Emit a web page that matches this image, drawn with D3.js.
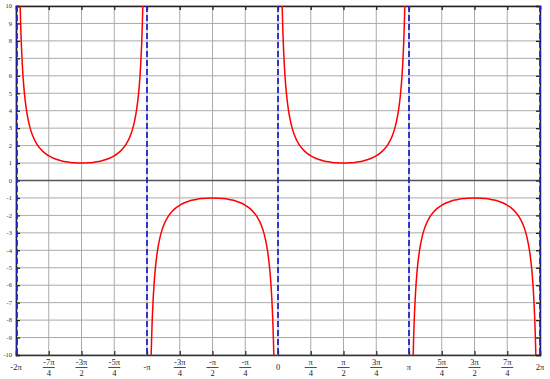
<!DOCTYPE html>
<html><head><meta charset="utf-8">
<script src="https://cdn.jsdelivr.net/npm/d3@7"></script>
<style>body{margin:0;background:#fff}svg{display:block}</style>
</head><body>
<script>
// x ticks in quarter-pi units
const xTickQuarters = [-8,-7,-6,-5,-4,-3,-2,-1,0,1,2,3,4,5,6,7,8];
const xTickNumerators = ["-2π","-7π","-3π","-5π","-π","-3π","-π","-π","0","π","π","3π","π","5π","3π","7π","2π"];
const xTickDenominators = ["","4","2","4","","4","2","4","","4","2","4","","4","2","4",""];
const yTicks = d3.range(-10, 11, 1);
// vertical asymptotes (multiples of pi)
const asymptotes = [-2, -1, 0, 1, 2];
// branch starts (multiples of pi) and sign of each branch of csc(x)
const branchStarts = [-2, -1, 0, 1];
const branchSigns = [1, -1, 1, -1];
// profile of one branch: offset from asymptote (radians) and |csc| value
const profileT = [0.1,0.11,0.12,0.13,0.15,0.17,0.2,0.25,0.3,0.35,0.4,0.5,0.6,0.7,0.8,0.9,1.0,1.1,1.2,1.3,1.4,1.5708,
  1.7416,1.8416,1.9416,2.0416,2.1416,2.2416,2.3416,2.4416,2.5416,2.6416,2.7416,2.7916,2.8416,2.8916,2.9416,2.9716,2.9916,3.0116,3.0216,3.0316,3.0416];
const profileV = [10.017,9.109,8.353,7.714,6.692,5.911,5.033,4.042,3.384,2.916,2.568,2.086,1.771,1.552,1.394,1.277,1.188,1.122,1.073,1.038,1.015,1.000,
  1.015,1.038,1.073,1.122,1.188,1.277,1.394,1.552,1.771,2.086,2.568,2.916,3.384,4.042,5.033,5.911,6.692,7.714,8.353,9.109,10.017];

const W = 550, H = 379;
const m = {l:16, r:10, t:6, b:24};
const PI = Math.PI;
const x = d3.scaleLinear().domain([-2*PI, 2*PI]).range([m.l, W - m.r]);
const y = d3.scaleLinear().domain([-10, 10]).range([H - m.b, m.t]);

const svg = d3.select("body").append("svg").attr("width", W).attr("height", H);
svg.append("defs").append("clipPath").attr("id","clip").append("rect")
  .attr("x", m.l).attr("y", m.t).attr("width", W-m.l-m.r).attr("height", H-m.t-m.b);

const xVals = xTickQuarters.map(q => q*PI/4);
// grid
const g = svg.append("g");
g.selectAll("line.vg").data(xVals).join("line")
  .attr("x1", d=>x(d)).attr("x2", d=>x(d)).attr("y1", m.t).attr("y2", H-m.b)
  .attr("stroke", "#aaa").attr("stroke-width", 1);
g.selectAll("line.hg").data(yTicks).join("line")
  .attr("x1", m.l).attr("x2", W-m.r).attr("y1", d=>y(d)).attr("y2", d=>y(d))
  .attr("stroke", "#aaa").attr("stroke-width", 1);
// zero line
svg.append("line").attr("x1", m.l).attr("x2", W-m.r).attr("y1", y(0)).attr("y2", y(0))
  .attr("stroke", "#555").attr("stroke-width", 1.3);

// axes (inward ticks on all sides)
const tl = 4;
svg.append("g").attr("transform", `translate(0,${H-m.b})`)
  .call(d3.axisTop(x).tickValues(xVals).tickSize(tl).tickFormat(""))
  .call(s => s.selectAll("path,line").attr("stroke","#333").attr("stroke-width",1.3));
svg.append("g").attr("transform", `translate(0,${m.t})`)
  .call(d3.axisBottom(x).tickValues(xVals).tickSize(tl).tickFormat(""))
  .call(s => s.selectAll("path,line").attr("stroke","#222").attr("stroke-width",1.3));
svg.append("g").attr("transform", `translate(${m.l},0)`)
  .call(d3.axisRight(y).tickValues(yTicks).tickSize(tl).tickFormat(""))
  .call(s => s.selectAll("path,line").attr("stroke","#222").attr("stroke-width",1.3));
svg.append("g").attr("transform", `translate(${W-m.r},0)`)
  .call(d3.axisLeft(y).tickValues(yTicks).tickSize(tl).tickFormat(""))
  .call(s => s.selectAll("path,line").attr("stroke","#222").attr("stroke-width",1.3));
svg.selectAll(".domain").attr("stroke-width",1.5);

// y labels
svg.append("g").selectAll("text").data(yTicks).join("text")
  .attr("x", m.l - 4).attr("y", d=>y(d)).attr("dy","0.35em")
  .attr("text-anchor","end").attr("font-family","Liberation Serif, serif").attr("font-size",6.5)
  .attr("fill","#333").text(d=>d);

// x labels
const xl = svg.append("g").attr("font-family","Liberation Serif, serif").attr("font-size",8.5).attr("fill","#222");
xTickQuarters.forEach((q,i) => {
  const cx = x(q*PI/4);
  if (xTickDenominators[i] === "") {
    xl.append("text").attr("x", cx).attr("y", H-m.b+15).attr("text-anchor","middle").text(xTickNumerators[i]);
  } else {
    xl.append("text").attr("x", cx).attr("y", H-m.b+10).attr("text-anchor","middle").text(xTickNumerators[i]);
    xl.append("line").attr("x1", cx-6).attr("x2", cx+6).attr("y1", H-m.b+12.5).attr("y2", H-m.b+12.5)
      .attr("stroke","#222").attr("stroke-width",0.8);
    xl.append("text").attr("x", cx).attr("y", H-m.b+20.5).attr("text-anchor","middle").text(xTickDenominators[i]);
  }
});

// asymptotes
svg.append("g").selectAll("line").data(asymptotes).join("line")
  .attr("x1", d=>x(d*PI)+ (d===-2?1:0)).attr("x2", d=>x(d*PI)+(d===-2?1:0))
  .attr("y1", m.t).attr("y2", H-m.b)
  .attr("stroke","#2424cc").attr("stroke-width",1.8).attr("stroke-dasharray","6,3");

// curves
const line = d3.line().x(d=>x(d[0])).y(d=>y(d[1])).curve(d3.curveMonotoneX);
const branches = branchStarts.map((s,i) => profileT.map((t,j) => [s*PI + t, branchSigns[i]*profileV[j]]));
svg.append("g").attr("clip-path","url(#clip)").selectAll("path").data(branches).join("path")
  .attr("d", line).attr("fill","none").attr("stroke","#ff0000").attr("stroke-width",1.5);
</script>
</body></html>
